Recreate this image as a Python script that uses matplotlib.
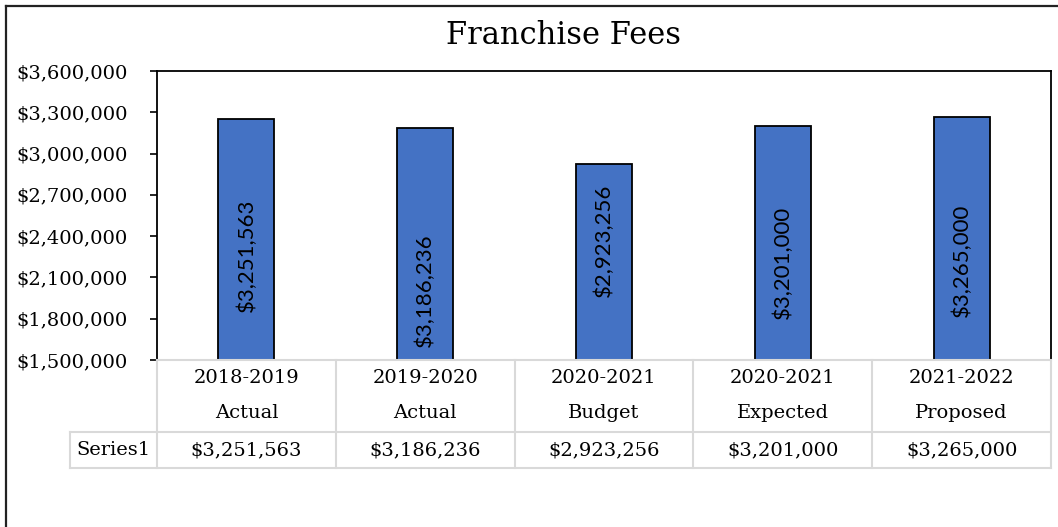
import matplotlib
matplotlib.use("Agg")
import matplotlib.pyplot as plt
from matplotlib.lines import Line2D
from matplotlib.transforms import blended_transform_factory

# data
categories = ["2018-2019\nActual", "2019-2020\nActual", "2020-2021\nBudget",
              "2020-2021\nExpected", "2021-2022\nProposed"]
values = [3251563, 3186236, 2923256, 3201000, 3265000]
series_name = "Series1"
# where the rotated value labels sit inside each bar
label_y = [2263000, 2009000, 2372000, 2212000, 2227000]
yticks = [1500000, 1800000, 2100000, 2400000, 2700000, 3000000, 3300000, 3600000]

serif = "DejaVu Serif"
sans = "Lato"
grid_c = "#d9d9d9"
fs = 14


def money(v):
    return f"${v:,.0f}"


W, H = 1058, 527
fig = plt.figure(figsize=(W / 100, H / 100), dpi=100)
ax = fig.add_axes([157 / W, 1 - 360 / H, 894 / W, 289 / H])

x = list(range(len(values)))
ax.bar(x, values, width=0.313, color="#4472C4", edgecolor="black", linewidth=1.3, zorder=2)
for xi, v, ly in zip(x, values, label_y):
    ax.text(xi, ly, money(v), rotation=90, ha="center", va="center",
            fontsize=16, family=sans, color="black", zorder=3)

ax.set_xlim(-0.5, len(values) - 0.5)
ax.set_ylim(1500000, 3600000)
ax.set_yticks(yticks)
ax.set_yticklabels([money(t) for t in yticks], family=serif, fontsize=fs)
ax.set_xticks([])
ax.tick_params(axis="y", direction="out", length=5, width=1.2, pad=16)
for s in ["left", "top", "right"]:
    ax.spines[s].set_color("black")
    ax.spines[s].set_linewidth(1.3)
ax.spines["bottom"].set_color(grid_c)
ax.spines["bottom"].set_linewidth(1.5)

# data table under the plot
tr = blended_transform_factory(ax.transData, ax.transAxes)
y_mid, y_bot = -0.249, -0.3737
x_lab = -0.987
n = len(values)
line_kw = dict(color=grid_c, lw=1.5, transform=tr, clip_on=False)
ax.plot([x_lab, n - 0.5], [y_mid, y_mid], **line_kw)
ax.plot([x_lab, n - 0.5], [y_bot, y_bot], **line_kw)
ax.plot([x_lab, x_lab], [y_mid, y_bot], **line_kw)
for b in range(n + 1):
    ax.plot([b - 0.5, b - 0.5], [0, y_bot], **line_kw)

for xi, cat, v in zip(x, categories, values):
    l1, l2 = cat.split("\n")
    ax.text(xi, -0.0623, l1, transform=tr, ha="center", va="center", family=serif, fontsize=fs)
    ax.text(xi, -0.1834, l2, transform=tr, ha="center", va="center", family=serif, fontsize=fs)
    ax.text(xi, -0.3114, money(v), transform=tr, ha="center", va="center", family=serif, fontsize=fs)
ax.text((x_lab - 0.5) / 2, -0.3114, series_name, transform=tr, ha="center", va="center",
        family=serif, fontsize=fs)

# title and chart frame
fig.text(563 / W, 1 - 35 / H, "Franchise Fees", ha="center", va="center", family=serif, fontsize=22)
fig.add_artist(Line2D([6 / W, 6 / W], [0, 1 - 6 / H], color="#222222", lw=1.6))
fig.add_artist(Line2D([6 / W, 1], [1 - 6 / H, 1 - 6 / H], color="#222222", lw=1.6))

fig.savefig("out.png", dpi=100)
